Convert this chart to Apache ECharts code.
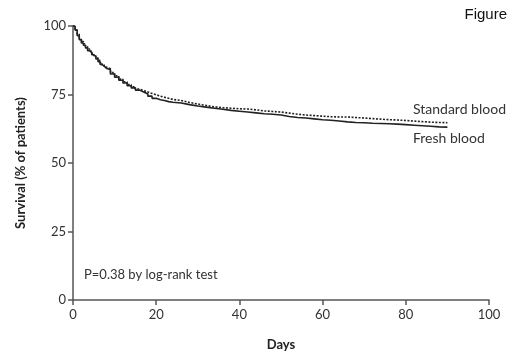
<!DOCTYPE html>
<html>
<head>
<meta charset="utf-8">
<script src="https://cdn.jsdelivr.net/npm/echarts@6/dist/echarts.min.js"></script>
<style>
  html, body { margin: 0; padding: 0; background: #fff; }
  #chart { width: 520px; height: 364px; }
</style>
</head>
<body>
<div id="chart"></div>
<script>
// values
var days = [0, 0.5, 1, 1.5, 2, 2.5, 3, 3.5, 4, 4.5, 5, 5.5, 6, 6.5, 7, 7.5, 8, 9, 10, 11, 12, 13, 14, 15, 16, 17, 18, 19, 20, 21, 22, 23, 24, 26, 28, 30, 32, 34, 36, 38, 40, 42, 44, 46, 48, 50, 52, 54, 56, 58, 60, 62, 64, 66, 68, 70, 72, 74, 76, 78, 80, 82, 84, 86, 88, 90];
var freshBlood = [100, 98.5, 96.5, 95, 93.8, 93, 92, 91, 90.3, 89.5, 88.8, 88, 87, 86, 85.3, 84.6, 84, 82.5, 81.3, 80.2, 79.2, 78.2, 77.4, 76.6, 75.9, 75.2, 74.4, 73.6, 73.1, 72.8, 72.4, 72.2, 71.9, 71.3, 70.8, 70.4, 70, 69.6, 69.2, 68.9, 68.6, 68.3, 68, 67.8, 67.5, 67, 66.6, 66.4, 66.1, 65.8, 65.6, 65.3, 65, 64.8, 64.7, 64.5, 64.4, 64.3, 64.2, 64, 63.8, 63.6, 63.4, 63.2, 63.1, 63.1];
var standardBlood = [100, 98.5, 97, 95.5, 94.3, 93.5, 92.5, 91.6, 90.8, 90, 89.2, 88.4, 87.5, 86.6, 85.8, 85, 84.4, 83, 81.8, 80.6, 79.6, 78.6, 77.8, 77, 76.4, 75.9, 75.4, 74.9, 74.4, 74, 73.6, 73.2, 72.8, 72.1, 71.5, 71, 70.5, 70.2, 70, 69.8, 69.7, 69.4, 69, 68.8, 68.6, 68.2, 67.8, 67.5, 67.3, 67.1, 66.9, 66.8, 66.8, 66.6, 66.4, 66.2, 66, 65.8, 65.7, 65.5, 65.3, 65.1, 64.9, 64.8, 64.7, 64.6];

function pairs(xs, ys) {
  return xs.map(function (x, i) { return [x, ys[i]]; });
}

var font = "Lato, 'Open Sans', sans-serif";
var axisColor = "#555";
var chart = echarts.init(document.getElementById("chart"));

chart.setOption({
  animation: false,
  grid: { left: 73, right: 31, top: 26, bottom: 64 },
  xAxis: {
    type: "value",
    min: 0,
    max: 100,
    interval: 20,
    name: "Days",
    nameLocation: "middle",
    nameGap: 38,
    nameTextStyle: { fontFamily: font, fontWeight: "bold", fontSize: 13, color: "#222" },
    axisLine: { show: true, lineStyle: { color: axisColor, width: 1.5 } },
    axisTick: { show: true, length: 5, lineStyle: { color: axisColor, width: 1.5 } },
    axisLabel: { margin: 8, fontFamily: font, fontSize: 13, color: "#333" },
    splitLine: { show: false }
  },
  yAxis: {
    type: "value",
    min: 0,
    max: 100,
    interval: 25,
    name: "Survival (% of patients)",
    nameLocation: "middle",
    nameGap: 46,
    nameTextStyle: { fontFamily: font, fontWeight: "bold", fontSize: 13, color: "#222" },
    axisLine: { show: true, lineStyle: { color: axisColor, width: 1.5 } },
    axisTick: { show: true, length: 5, lineStyle: { color: axisColor, width: 1.5 } },
    axisLabel: { margin: 7, fontFamily: font, fontSize: 13, color: "#333" },
    splitLine: { show: false }
  },
  series: [
    {
      name: "Standard blood",
      type: "line",
      step: "end",
      symbol: "none",
      lineStyle: { color: "#222", width: 1.6, type: [2, 1.5] },
      data: pairs(days, standardBlood)
    },
    {
      name: "Fresh blood",
      type: "line",
      step: "end",
      symbol: "none",
      lineStyle: { color: "#222", width: 1.6 },
      data: pairs(days, freshBlood)
    }
  ],
  graphic: [
    { type: "text", right: 13, top: 7, style: { text: "Figure", font: "15px 'Liberation Sans', Arial, sans-serif", fill: "#111" } },
    { type: "text", left: 413, top: 102, style: { text: "Standard blood", font: "14px " + font, fill: "#333" } },
    { type: "text", left: 413, top: 131, style: { text: "Fresh blood", font: "14px " + font, fill: "#333" } },
    { type: "text", left: 84, top: 268, style: { text: "P=0.38 by log-rank test", font: "13px " + font, fill: "#333" } }
  ]
});
</script>
</body>
</html>
